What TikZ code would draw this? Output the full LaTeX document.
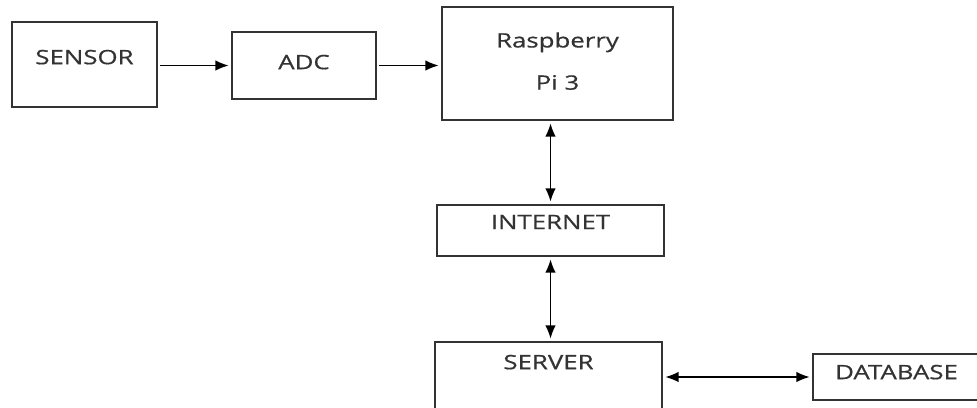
\documentclass[tikz,border=0pt]{standalone}
\usepackage{fontspec}
\newfontfamily\boxfont{Open Sans}[FakeStretch=1.3, FakeBold=0.6]
\usetikzlibrary{arrows.meta}
\definecolor{inkgray}{HTML}{333333}
\begin{document}
\begin{tikzpicture}[x=0.02cm, y=-0.02cm,
		blk/.style={draw=inkgray, line width=0.9pt, inner sep=0pt, text=inkgray,
			font=\boxfont\fontsize{11.3}{13}\selectfont, align=center},
		lift/.style={text depth=#1},
		>={Latex[length=7.5pt,width=6pt]},
		link/.style={black, line width=0.8pt, shorten <=1.5pt, shorten >=1.5pt}]
	\useasboundingbox (0,0) rectangle (977,407);

	\node [blk, lift=0.30cm, minimum width=2.90cm, minimum height=1.70cm] (sensor) at (84.5,64.5) {SENSOR};
	\node [blk, lift=0.14cm, minimum width=2.88cm, minimum height=1.34cm] (adc) at (304,65.5) {ADC};
	\node [blk, lift=0.10cm, minimum width=4.62cm, minimum height=2.26cm] (rpi) at (557.5,63.5) {Raspberry\\[11pt]Pi 3};
	\node [blk, lift=0.34cm, minimum width=4.54cm, minimum height=1.02cm] (internet) at (550.5,230.5) {INTERNET};
	\node [blk, lift=0.80cm, minimum width=4.54cm, minimum height=1.60cm] (server) at (548.5,382) {SERVER};
	\node [blk, lift=0.20cm, minimum width=3.34cm, minimum height=0.92cm] (database) at (896.5,377) {DATABASE};

	% signal chain
	\draw [link,->] (sensor.east |- adc.west) -- (adc.west);
	\draw [link,->] (adc.east) -- (adc.east -| rpi.west);
	% network side
	\draw [link,<->] (internet.north |- rpi.south) -- (internet.north);
	\draw [link,<->] (internet.south) -- (internet.south |- server.north);
	\draw [link,<->] (server.east |- database.west) -- (database.west);
\end{tikzpicture}
\end{document}
